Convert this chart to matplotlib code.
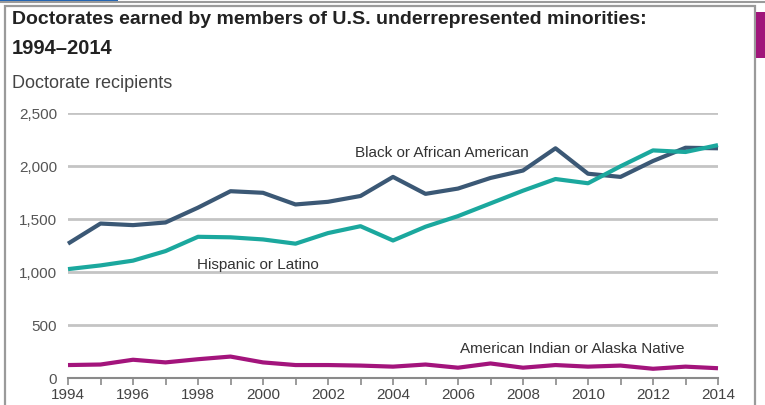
import matplotlib
matplotlib.use("Agg")
import matplotlib.pyplot as plt
from matplotlib.patches import Rectangle
from matplotlib.lines import Line2D

years = list(range(1994, 2015))
black = [1270, 1460, 1445, 1470, 1610, 1765, 1750, 1640, 1665, 1720, 1900,
         1740, 1790, 1890, 1960, 2170, 1930, 1900, 2050, 2175, 2170]
hispanic = [1030, 1065, 1110, 1200, 1335, 1330, 1310, 1270, 1370, 1435, 1300,
            1430, 1530, 1650, 1770, 1880, 1840, 2000, 2150, 2135, 2200]
amer_indian = [125, 130, 175, 150, 180, 205, 150, 125, 125, 120, 110,
               130, 100, 140, 100, 125, 110, 120, 90, 110, 95]
y_ticks = [0, 500, 1000, 1500, 2000, 2500]
y_tick_labels = ["0", "500", "1,000", "1,500", "2,000", "2,500"]

FONT = ["Liberation Sans Narrow", "Liberation Sans", "DejaVu Sans"]
plt.rcParams["font.family"] = FONT

W, H = 765, 405
fig = plt.figure(figsize=(W / 100, H / 100), dpi=100)
fig.patch.set_facecolor("white")

# frame decorations
fig.add_artist(Rectangle((5 / W, -0.05), 750 / W, 1.05 - 6 / H, transform=fig.transFigure,
                         fill=False, edgecolor="#9a9a9a", linewidth=1.6))
fig.add_artist(Line2D([0, 1], [1 - 2 / H] * 2, transform=fig.transFigure,
                      color="#9a9a9a", linewidth=1.5))
fig.add_artist(Rectangle((0, 1 - 3 / H), 118 / W, 3 / H, transform=fig.transFigure,
                         color="#1f63b5", linewidth=0))
fig.add_artist(Rectangle((756 / W, 1 - 58 / H), 9 / W, 46 / H, transform=fig.transFigure,
                         color="#a0157a", linewidth=0))

ax = fig.add_axes([68 / W, 1 - 378.3 / H, 650 / W, 265 / H])
ax.set_xlim(1994, 2014)
ax.set_ylim(0, 2500)

for v in y_ticks[1:]:
    ax.axhline(v, color="#c4c4c4", linewidth=2.0, zorder=1)

c_black, c_hisp, c_ai = "#3b5875", "#1ba89e", "#a3147c"
ax.plot(years, black, color=c_black, linewidth=3.0, zorder=3, clip_on=False,
        solid_capstyle="butt")
ax.plot(years, hispanic, color=c_hisp, linewidth=3.0, zorder=3, clip_on=False,
        solid_capstyle="butt")
ax.plot(years, amer_indian, color=c_ai, linewidth=3.0, zorder=3, clip_on=False,
        solid_capstyle="butt")

for s in ["top", "right", "left"]:
    ax.spines[s].set_visible(False)
ax.spines["bottom"].set_color("#8a8a8a")
ax.spines["bottom"].set_linewidth(1.5)

ax.set_xticks(years)
ax.set_xticklabels([str(y) if y % 2 == 0 else "" for y in years])
ax.tick_params(axis="x", direction="out", length=5, width=1.2, color="#8a8a8a",
               labelsize=11, labelcolor="#444444", pad=2)
ax.set_yticks(y_ticks)
ax.set_yticklabels(y_tick_labels)
ax.tick_params(axis="y", length=0, labelsize=11, labelcolor="#555555", pad=8)

ax.text(2005.5, 2130, "Black or African American", ha="center", va="center",
        fontsize=11, color="#333333")
ax.text(1999.85, 1071, "Hispanic or Latino", ha="center", va="center",
        fontsize=11, color="#333333")
ax.text(2009.5, 277, "American Indian or Alaska Native", ha="center", va="center",
        fontsize=11, color="#333333")

fig.text(12 / W, 1 - 20 / H, "Doctorates earned by members of U.S. underrepresented minorities:",
         ha="left", va="center", fontsize=14, fontweight="bold", color="#222222")
fig.text(12 / W, 1 - 48 / H, "1994\u20132014", ha="left", va="center",
         fontsize=14.5, fontweight="bold", color="#222222")
fig.text(12 / W, 1 - 84 / H, "Doctorate recipients", ha="left", va="center",
         fontsize=13, color="#444444")

fig.savefig("out.png", dpi=100)
